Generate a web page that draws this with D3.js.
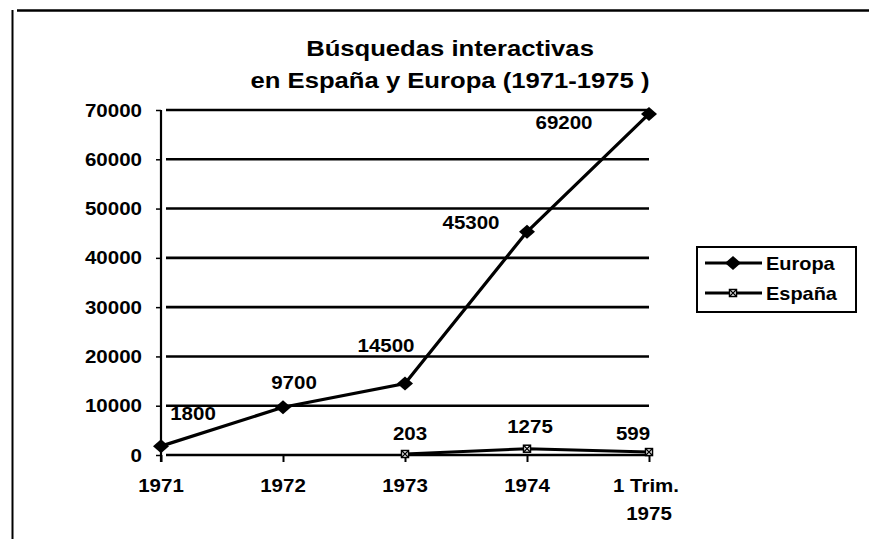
<!DOCTYPE html>
<html>
<head>
<meta charset="utf-8">
<script src="https://cdn.jsdelivr.net/npm/d3@7"></script>
<style>
  html, body { margin: 0; padding: 0; background: #fff; }
  svg text { font-family: "Liberation Sans", Arial, sans-serif; font-weight: bold; fill: #000; }
</style>
</head>
<body>
<svg id="chart" width="869" height="539"></svg>
<script>
// ---- data ----
const categories = ["1971", "1972", "1973", "1974", "1 Trim.\n1975"];
const europaValues = [1800, 9700, 14500, 45300, 69200];
const espanaValues = [null, null, 203, 1275, 599];
const yTicks = [0, 10000, 20000, 30000, 40000, 50000, 60000, 70000];
const seriesNames = ["Europa", "España"];
const titleLines = ["Búsquedas interactivas", "en España y Europa (1971-1975 )"];

// ---- layout (label offsets relative to their points) ----
const europaLabelOffsets = [[32, -33], [11, -25], [-19, -38], [-56, -9], [-85, 9]];
const espanaLabelOffsets = [null, null, [5, -20], [3, -22], [-16, -19]];

const svg = d3.select("#chart");
const SX = 1.14; // horizontal stretch of the scanned lettering

const x = d3.scalePoint().domain(categories).range([161, 649]);
const y = d3.scaleLinear().domain([0, 70000]).range([455, 110]);

function stretchedText(g, tx, ty, str, size, anchor) {
  return g.append("text")
    .attr("transform", `translate(${tx},${ty}) scale(${SX},1)`)
    .attr("text-anchor", anchor || "middle")
    .attr("font-size", size)
    .text(str);
}

// outer frame (partial, as in the scan)
svg.append("line").attr("x1", 17).attr("x2", 869).attr("y1", 10.5).attr("y2", 10.5)
  .attr("stroke", "#000").attr("stroke-width", 2.5);
svg.append("line").attr("x1", 12.5).attr("x2", 12.5).attr("y1", 10).attr("y2", 539)
  .attr("stroke", "#000").attr("stroke-width", 2);

// title
titleLines.forEach((t, i) => stretchedText(svg, 450, 56 + i * 32, t, 22.5));

// gridlines
svg.append("g").selectAll("line").data(yTicks).join("line")
  .attr("x1", 166).attr("x2", x(categories[categories.length - 1]))
  .attr("y1", d => y(d)).attr("y2", d => y(d))
  .attr("stroke", "#000").attr("stroke-width", 2.6);

// y axis
const yAxis = d3.axisLeft(y).tickValues(yTicks).tickSize(5).tickPadding(14).tickFormat(d3.format("d"));
const yg = svg.append("g").attr("transform", "translate(161,0)").call(yAxis);
yg.select(".domain").remove();
yg.selectAll(".tick line").attr("stroke", "#000").attr("stroke-width", 1.5);
yg.selectAll(".tick text").remove();
yTicks.forEach(v => {
  stretchedText(svg, 142, y(v) + 6.5, d3.format("d")(v), 18, "end");
});
svg.append("line").attr("x1", 161).attr("x2", 161).attr("y1", y(70000)).attr("y2", 462)
  .attr("stroke", "#000").attr("stroke-width", 2.2);

// x axis ticks
const xAxis = d3.axisBottom(x).tickSize(7).tickFormat("");
const xg = svg.append("g").attr("transform", `translate(0,${y(0)})`).call(xAxis);
xg.select(".domain").remove();
xg.selectAll(".tick line").attr("stroke", "#000").attr("stroke-width", 2);
categories.forEach(c => {
  c.split("\n").forEach((ln, i) => stretchedText(svg, x(c) + (i === 0 && c.includes("\n") ? -3 : 0), 492 + i * 28, ln, 18));
});

// Europa line
const line = d3.line().defined(d => d.v != null).x(d => x(d.c)).y(d => y(d.v));
const europa = categories.map((c, i) => ({ c, v: europaValues[i] }));
const espana = categories.map((c, i) => ({ c, v: espanaValues[i] }));

svg.append("path").datum(europa).attr("d", line)
  .attr("fill", "none").attr("stroke", "#000").attr("stroke-width", 3.2);
svg.append("path").datum(espana).attr("d", line)
  .attr("fill", "none").attr("stroke", "#000").attr("stroke-width", 3);

const diamond = "M0,-7L8,0L0,7L-8,0Z";
svg.append("g").selectAll("path").data(europa).join("path")
  .attr("transform", d => `translate(${x(d.c)},${y(d.v)})`)
  .attr("d", diamond).attr("fill", "#000");

function crossSquare(g) {
  g.append("rect").attr("x", -3.5).attr("y", -3.5).attr("width", 7).attr("height", 7)
    .attr("fill", "#fff").attr("stroke", "#000").attr("stroke-width", 1.5);
  g.append("path").attr("d", "M-3,-3L3,3M3,-3L-3,3").attr("stroke", "#000").attr("stroke-width", 1.3);
}
espana.filter(d => d.v != null).forEach(d => {
  const g = svg.append("g").attr("transform", `translate(${x(d.c)},${y(d.v)})`);
  crossSquare(g);
});

// data labels
europa.forEach((d, i) => {
  const o = europaLabelOffsets[i];
  stretchedText(svg, x(d.c) + o[0], y(d.v) + o[1] + 6.5, d3.format("d")(d.v), 18);
});
espana.forEach((d, i) => {
  if (d.v == null) return;
  const o = espanaLabelOffsets[i];
  stretchedText(svg, x(d.c) + o[0], y(d.v) + o[1] + 6.5, d3.format("d")(d.v), 18);
});

// legend
const lg = svg.append("g");
lg.append("rect").attr("x", 697).attr("y", 247).attr("width", 159).attr("height", 65)
  .attr("fill", "#fff").attr("stroke", "#000").attr("stroke-width", 2);
const rows = [263, 293];
seriesNames.forEach((name, i) => {
  const ry = rows[i];
  lg.append("line").attr("x1", 705).attr("x2", 762).attr("y1", ry).attr("y2", ry)
    .attr("stroke", "#000").attr("stroke-width", 3);
  const mg = lg.append("g").attr("transform", `translate(733,${ry})`);
  if (i === 0) mg.append("path").attr("d", diamond).attr("fill", "#000");
  else crossSquare(mg);
  stretchedText(lg, 766, ry + 6.5, name, 17.5, "start");
});
</script>
</body>
</html>
